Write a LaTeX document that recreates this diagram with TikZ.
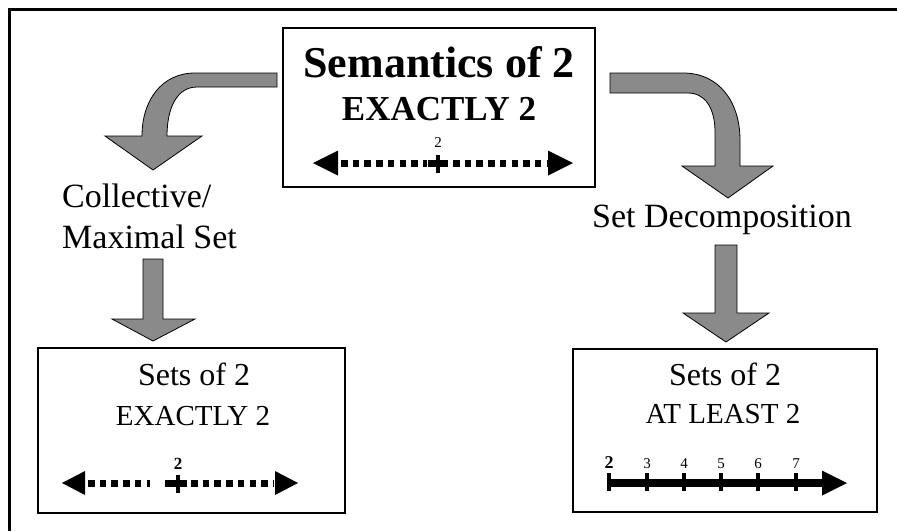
\documentclass[tikz,border=0pt]{standalone}
\usepackage{xcolor}
\usepackage{fontspec}
\setmainfont{Liberation Serif}
\definecolor{arrowgray}{RGB}{138,138,138}

\begin{document}
\begin{tikzpicture}[x=1pt,y=-1pt,
  box/.style={draw=black, line width=1.3pt, fill=white, inner sep=0pt},
  txt/.style={anchor=base, inner sep=0pt},
  blockarrow/.style={fill=arrowgray, draw=black, line width=0.8pt, line join=miter},
  dots/.style={line width=7pt, dash pattern=on 6.5pt off 5.2pt},
  solidline/.style={line width=7pt},
  tickmark/.style={line width=3.6pt},
  headtri/.style={fill=black},
]
\useasboundingbox (0,0) rectangle (897,531);
\fill[white] (0,0) rectangle (897,531);

% outer frame (top and left edges)
\draw[line width=3pt] (9,531) -- (9,9) -- (897,9);

% ---------- boxes ----------
\node[box, minimum width=312pt, minimum height=159pt] (topbox) at (439,107.5) {};
\node[box, minimum width=307pt, minimum height=165pt] (leftbox) at (191.5,430.5) {};
\node[box, minimum width=304pt, minimum height=163pt] (rightbox) at (725,430.5) {};

% ---------- top box content ----------
\node[txt, font=\fontsize{44}{44}\bfseries\selectfont] (title) at (439,77) {Semantics of 2};
\node[txt, font=\fontsize{35}{35}\bfseries\selectfont] (topsub) at (439,120) {EXACTLY 2};
\node[txt, font=\fontsize{15}{15}\selectfont] (toptwo) at (438,147) {2};

\coordinate (tl) at (313,163);
\coordinate (tr) at (573,163);
\coordinate (tm) at (438,163);
\fill[headtri] (tl) -- ++(25,-12.5) -- ++(0,25) -- cycle;
\fill[headtri] (tr) -- ++(-25,-12.5) -- ++(0,25) -- cycle;
\draw[dots] (341,163) -- (427,163);
\draw[dots] (453,163) -- (547,163);
\draw[solidline] ([xshift=-10]tm) -- ([xshift=10]tm);
\draw[tickmark] ([yshift=-10]tm) -- ([yshift=8]tm);

% ---------- left bottom box content ----------
\node[txt, font=\fontsize{32}{32}\selectfont] (lsets) at (194,385) {Sets of 2};
\node[txt, font=\fontsize{29}{29}\selectfont] (lsub) at (193,425) {EXACTLY 2};
\node[txt, font=\fontsize{17}{17}\bfseries\selectfont] (ltwo) at (178,469) {2};

\coordinate (ll) at (62,483);
\coordinate (lr) at (298,483);
\coordinate (lm) at (178,483);
\fill[headtri] (ll) -- ++(23,-12) -- ++(0,24) -- cycle;
\fill[headtri] (lr) -- ++(-23,-12) -- ++(0,24) -- cycle;
\draw[dots] (88,483) -- (150,483);
\draw[dots] (191,483) -- (274,483);
\draw[solidline] (165,483) -- (187,483);
\draw[tickmark] ([yshift=-10]lm) -- ([yshift=8]lm);

% ---------- right bottom box content ----------
\node[txt, font=\fontsize{32}{32}\selectfont] (rsets) at (725,385) {Sets of 2};
\node[txt, font=\fontsize{29}{29}\selectfont] (rsub) at (723,423) {AT LEAST 2};

\coordinate (rl) at (609,483);
\coordinate (rr) at (847,483);
\draw[line width=8pt] (rl) -- (824,483);
\fill[headtri] (rr) -- ++(-25,-12.5) -- ++(0,25) -- cycle;
\node[txt, font=\fontsize{18}{18}\bfseries\selectfont] (n2) at (609,468) {2};
\draw[tickmark] (609,473) -- (609,491);
\foreach \k/\xx in {3/647,4/684,5/721,6/758,7/796}{
  \node[txt, font=\fontsize{15}{15}\selectfont] (n\k) at (\xx,468) {\k};
  \draw[tickmark] (\xx,473) -- (\xx,491);
}

% ---------- side labels ----------
\node[txt, anchor=base west, font=\fontsize{34}{34}\selectfont] (collective) at (62,207) {Collective/};
\node[txt, anchor=base west, font=\fontsize{34}{34}\selectfont] (maximal) at (62,248) {Maximal Set};
\node[txt, font=\fontsize{34}{34}\selectfont] (decomp) at (722,227) {Set Decomposition};

% ---------- block arrows ----------
% curved arrow to the left branch
\draw[blockarrow] (277,73) -- (195,73)
  .. controls (162,73) and (142,100) .. (142,136)
  -- (105,136) -- (153,170) -- (202,136) -- (167,136)
  .. controls (167,108) and (177,87) .. (197,87)
  -- (277,87) -- cycle;

% curved arrow to the right branch
\draw[blockarrow] (610,73) -- (683,73)
  .. controls (720,73) and (740,103) .. (740,140)
  -- (740,166) -- (773,166) -- (728,198) -- (682,166) -- (715,166)
  -- (715,132) .. controls (715,108) and (705,93) .. (688,93)
  -- (610,93) -- cycle;

% straight arrow into the left box
\draw[blockarrow] (143,259) -- (163,259) -- (163,319) -- (195,319)
  -- (153,341) -- (112,319) -- (143,319) -- cycle;

% straight arrow into the right box
\draw[blockarrow] (715,245) -- (737,245) -- (737,313) -- (769,313)
  -- (726,342) -- (683,313) -- (715,313) -- cycle;
\end{tikzpicture}
\end{document}
